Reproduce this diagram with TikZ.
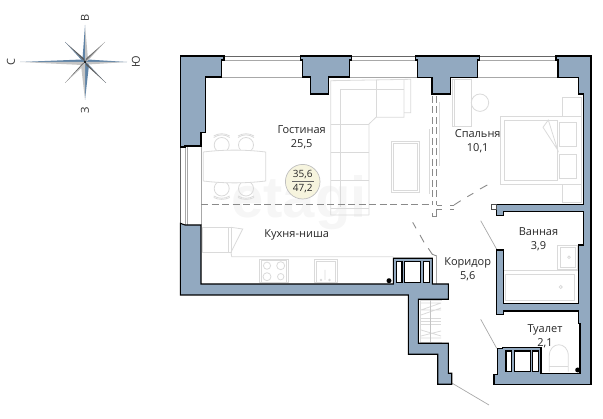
\documentclass[tikz,border=0pt]{standalone}
\usepackage{fontspec}
\setmainfont{Open Sans}
\newfontfamily\markfont{Liberation Sans}
\definecolor{wallc}{HTML}{92A9C0}
\definecolor{furn}{HTML}{DADADA}
\definecolor{winc}{HTML}{A8A8A8}
\definecolor{badge}{HTML}{F6F4DE}
\definecolor{wmark}{HTML}{F6F6F6}
\definecolor{dashc}{HTML}{8A8A8A}
\definecolor{starblue}{HTML}{5F83A6}
\definecolor{stargray}{HTML}{C4C4C4}
\tikzset{
  wall/.style={fill=wallc,draw=black,line width=1.1pt,line join=miter},
  shaftbox/.style={fill=white,draw=black,line width=1.1pt},
  furniture/.style={draw=furn,line width=0.8pt},
  winline/.style={draw=winc,line width=0.8pt},
  dashline/.style={draw=dashc,line width=0.9pt},
  thinline/.style={draw=winc,line width=0.7pt},
  roomlabel/.style={font=\fontsize{11}{14}\selectfont,align=center,text=black!85,inner sep=0pt},
  badgelabel/.style={font=\fontsize{10}{11}\selectfont,text=black!85,inner sep=0pt},
  compass/.style={font=\fontsize{11}{12}\selectfont,text=black!80,inner sep=0pt,rotate=90},
}
\begin{document}
\begin{tikzpicture}[x=1pt,y=-1pt]
\useasboundingbox (0,0) rectangle (603,419);
% watermark
\node[font=\markfont\bfseries\fontsize{58}{58}\selectfont,text=wmark,inner sep=0pt] (wm) at (299,203) {etagi};
% compass
\fill[starblue] (85,62) -- (87.5,59.5) -- (127,62) -- (87.5,63) -- cycle;
\fill[stargray] (85,62) -- (88,64.5) -- (127,62) -- cycle;
\fill[starblue] (85,62) -- (82,59.5) -- (20,62) -- cycle;
\fill[stargray] (85,62) -- (82,65) -- (20,62) -- cycle;
\fill[starblue] (85,62) -- (82.5,59) -- (85,25) -- cycle;
\fill[stargray] (85,62) -- (88,59) -- (85,25) -- cycle;
\fill[starblue] (85,62) -- (89,65) -- (85,100) -- cycle;
\fill[stargray] (85,62) -- (81,65) -- (85,100) -- cycle;
\fill[starblue] (85,62) -- (82,60.5) -- (65,42) -- cycle;
\fill[black!65] (85,62) -- (84,58.5) -- (65,42) -- cycle;
\fill[stargray] (85,62) -- (88,60.5) -- (105,42) -- cycle;
\fill[black!55] (85,62) -- (86,58.5) -- (105,42) -- cycle;
\fill[starblue] (85,62) -- (88,64) -- (106,83) -- cycle;
\fill[black!65] (85,62) -- (86,65) -- (106,83) -- cycle;
\fill[stargray] (85,62) -- (84,65.5) -- (65,83) -- cycle;
\fill[black!65] (85,62) -- (82,64) -- (65,83) -- cycle;
\fill[black] (85,62) circle (1.1);
\node[compass] (cn) at (85,18) {В};
\node[compass] (cs) at (85,110) {З};
\node[compass] (cw) at (11,62) {С};
\node[compass] (ce) at (136,62) {Ю};
% windows
\foreach \xa/\xb in {224/300.7,351.7/415.7,479.3/556}{
  \draw[draw=black!60,line width=0.8pt] (\xa,56) -- (\xb,56);
  \draw[winline] (\xa,60.5) -- (\xb,60.5);
  \draw[winline] (\xa-2,77) -- (\xb+2,77);
}
\draw[draw=black!60,line width=0.8pt] (180.3,147) -- (180.3,223);
\draw[winline] (185,147) -- (185,225) (187.3,147) -- (187.3,225);
\draw[winline] (201,146) -- (201,225);
% sofa
\draw[furniture] (369,215) -- (330.7,215) -- (330.7,80.7) -- (410.7,79.3) -- (410.7,112.7) -- (404,112.7);
\draw[furniture] (404,79.3) -- (404,117.3) -- (376,117.3) -- (369,124) -- (369,215);
\draw[furniture] (376,80) -- (376,117.3);
\draw[furniture] (340,207) -- (340,89.3) -- (404,89.3);
\draw[furniture] (330.7,124.3) -- (369,124.3) (330.7,152.3) -- (369,152.3) (330.7,180.7) -- (369,180.7) (330.7,208) -- (369,208);
% coffee table
\draw[furniture] (391,141.7) rectangle (419.3,192.7);
\draw[furniture] (393.3,143.3) rectangle (417.3,190.7);
% table and chairs
\foreach \cx in {221.7,246}{
  \draw[furniture] (\cx,145) circle (7.5);
  \draw[furniture] (\cx,188.5) circle (7.5);
  \draw[furniture] (\cx-8,137.5) .. controls (\cx-3,134) and (\cx+3,134) .. (\cx+8,137.5);
  \draw[furniture] (\cx-8,136) .. controls (\cx-3,133) and (\cx+3,133) .. (\cx+8,136);
  \draw[furniture] (\cx-8,196) .. controls (\cx-3,199) and (\cx+3,199) .. (\cx+8,196);
  \draw[furniture] (\cx-8,197.5) .. controls (\cx-3,200) and (\cx+3,200) .. (\cx+8,197.5);
}
\filldraw[furniture,fill=white] (203.3,152) .. controls (224,149.5) and (245,149.5) .. (265.7,152) -- (265.7,181) .. controls (245,183.5) and (224,183.5) .. (203.3,181) -- cycle;
% kitchen
\draw[furniture] (202.7,227.3) rectangle (228.3,252.3);
\draw[furniture] (228.3,227.3) rectangle (231,252.3);
\draw[furniture] (231,227.3) -- (242.7,229) -- (231,252.3) -- (231.7,256.7) -- (393.3,256.7);
\draw[furniture] (259.3,259) rectangle (288.3,282.7);
\draw[furniture] (261,260.5) rectangle (286.7,282.7);
\foreach \bx/\by/\br in {267/265.7/3.6,280.7/265.7/4,267/276.7/4,280.7/276.7/3.2}{
  \draw[furniture] (\bx,\by) circle (\br);
}
\draw[furniture] (314,259.3) rectangle (337.3,282.7);
\draw[furniture] (316,261) -- (335.3,261) -- (335.3,282.7) (316,261) -- (316,282.7);
\draw[furniture] (325,270) -- (325,280) (321,280) circle (0.9) (329.5,280) circle (0.9);
% bedroom
\draw[furniture] (452,79.3) rectangle (471.7,126.7);
\draw[furniture] (454,79.3) -- (454,126.7);
\draw[furniture] (480,102.7) circle (8.7);
\draw[furniture] (439.3,101.7) -- (439.3,166);
\draw[furniture] (429.3,129.3) -- (429.3,194);
\draw[furniture] (500.3,116) rectangle (581.7,184);
\draw[furniture] (504.7,120) rectangle (557.7,180);
\draw[furniture] (548.3,120) -- (543,127.3) -- (557.7,150) -- cycle;
\draw[furniture] (559.3,122) rectangle (576.7,146);
\draw[furniture] (559.3,154) rectangle (576.7,178);
\draw[furniture] (562.3,97.3) rectangle (581.7,116);
\draw[furniture] (562.3,184) rectangle (581.7,202.7);
% bathroom
\draw[furniture] (557.7,245.7) rectangle (577.7,269);
\draw[furniture] (560,247.7) rectangle (575.5,267);
\draw[furniture] (569,257.3) circle (1.3);
\draw[furniture] (503.7,270.7) -- (578.7,270.7);
\draw[furniture] (505,274) rectangle (574,300.5);
\draw[furniture] (560.7,287) circle (1.6);
% toilet
\draw[furniture] (549.3,371.7) -- (549.3,356) .. controls (549.3,341) and (568.3,341) .. (568.3,356) -- (568.3,371.7);
\draw[furniture] (549.3,366.7) -- (568.3,366.7);
% laundry
\draw[furniture] (420,300) -- (442,300) (442,342) -- (420,342) (420,300) -- (420,342);
\draw[furniture] (421,310) -- (441,303) (421,315) -- (441,308) (421,303) -- (441,303) (421,310) -- (441,310);
\draw[furniture] (421,318) -- (441,318) (421,321) -- (441,321) (421,324) -- (441,324);
\draw[furniture] (421,330) -- (441,336) (421,336) -- (441,331) (421,338) -- (441,338);
\draw[draw=furn!90!black,line width=1.4pt] (430.7,300) -- (430.7,342);
% dashed partitions
\draw[dashline,dash pattern=on 7pt off 3.5pt] (201,204.7) -- (431,204.7);
\draw[dashline,dash pattern=on 7pt off 3.5pt] (432,96) -- (432,204.7);
\draw[dashline,dash pattern=on 7pt off 3.5pt] (436.7,96) -- (436.7,204.7);
\draw[dashline] (436.7,205) -- (442,205) (450,205) -- (454,205) (450,209) -- (454,209);
\draw[dashline] (454,205) -- (460.7,200.7) (467.3,196.7) -- (473.3,193.3) (480,189) -- (487.3,185);
\draw[dashline] (441.7,209.3) -- (436.7,209.3) -- (436.7,216.7) -- (432,216.7) -- (432,213.3);
% door lines
\draw[dashline] (412.7,222.3) -- (416,228.3) (420,235) -- (424,242.3) (428.3,248.3) -- (432.3,254.3) -- (436.7,256);
\draw[thinline] (436.7,256) -- (436.7,284);
\draw[thinline] (480.7,220.7) -- (496.7,249.3);
\draw[thinline] (480.7,319.3) -- (496.7,348.3);
\draw[thinline] (452.3,383.3) -- (489,405);
% walls
\draw[wall] (180.3,56) -- (224,56) -- (224,60) -- (221.7,60) -- (221.7,77) -- (205.7,77) -- (205.7,132.3) -- (201,132.3) -- (201,146) -- (185,146) -- (185,147) -- (180.3,147) -- cycle;
\draw[wall] (300.7,56) -- (351.7,56) -- (351.7,60) -- (349.7,60) -- (349.7,77) -- (328.3,77) -- (328.3,94) -- (310.3,94) -- (310.3,77) -- (302.7,77) -- (302.7,60) -- (300.7,60) -- cycle;
\draw[wall] (415.7,56) -- (479.3,56) -- (479.3,60) -- (477.3,60) -- (477.3,77.3) -- (450.3,77.3) -- (450.3,94) -- (432,94) -- (432,77.3) -- (417.7,77.3) -- (417.7,60) -- (415.7,60) -- cycle;
\draw[wall] (556,56) -- (591,56) -- (591,384.3) -- (494,384.3) -- (494,374.3) -- (497.3,374.3) -- (497.3,348.3) -- (502.3,348.3) -- (502.3,347.3) -- (541,347.3) -- (541,373.3) -- (580,373.3) -- (580,323.3) -- (578.7,323.3) -- (578.7,311) -- (503.7,311) -- (503.7,314.7) -- (496.7,314.7) -- (496.7,250) -- (503.7,250) -- (503.7,303.3) -- (578.7,303.3) -- (578.7,245) -- (583.3,245) -- (583.3,211.7) -- (503.3,211.7) -- (503.3,215.7) -- (496.7,215.7) -- (496.7,204.3) -- (583.3,204.3) -- (583.3,94) -- (578.7,94) -- (578.7,77.3) -- (558,77.3) -- (558,60) -- (556,60) -- cycle;
\draw[wall] (180.3,223.3) -- (185,225) -- (201,225) -- (201,284) -- (393.3,284) -- (393.3,258.3) -- (432.3,258.3) -- (432.3,284) -- (448.3,284) -- (448.3,299.3) -- (418.3,299.3) -- (418.3,343.3) -- (448.3,343.3) -- (448.3,373.3) -- (451.7,373.3) -- (451.7,384.3) -- (437.7,384.3) -- (437.7,354.3) -- (408.3,354.3) -- (408.3,295) -- (180.3,295) -- cycle;
% door frame stub
\draw[draw=black!70,line width=0.7pt,fill=white] (491.7,204.5) rectangle (496.7,209);
% shafts
\draw[shaftbox] (396.7,261.7) rectangle (402,282.3);
\draw[shaftbox] (404.7,261.7) rectangle (420.7,282.3);
\draw[shaftbox] (423.3,261.7) rectangle (429.3,282.3);
\draw[shaftbox] (506,351) rectangle (511.3,371.7);
\draw[shaftbox] (514.3,351) rectangle (530.3,371.7);
\draw[shaftbox] (532.7,351) rectangle (538.3,371.7);
\fill[black] (389,280.7) circle (2.5);
\fill[black] (577.7,370) circle (2.5);
% badge
\filldraw[fill=badge,draw=black!25,line width=0.7pt] (302.7,181.7) circle (17.3);
\draw[draw=black!60,line width=0.5pt] (292,181.7) -- (313.5,181.7);
\node[badgelabel] (area) at (302.7,174.7) {35,6};
\node[badgelabel] (areab) at (302.7,188.5) {47,2};
% labels
\node[roomlabel] (living) at (301.7,137) {Гостиная\\25,5};
\node[roomlabel] (kitchen) at (296.7,234.5) {Кухня-ниша};
\node[roomlabel] (bed) at (477.7,141.7) {Спальня\\10,1};
\node[roomlabel] (bath) at (538.5,239.5) {Ванная\\3,9};
\node[roomlabel] (corr) at (467.7,269) {Коридор\\5,6};
\node[roomlabel] (wc) at (545,336.5) {Туалет\\2,1};
\end{tikzpicture}
\end{document}
